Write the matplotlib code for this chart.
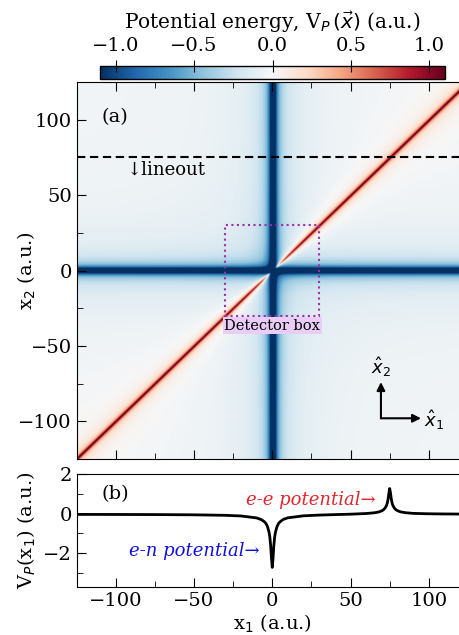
import numpy as np
import matplotlib
matplotlib.use("Agg")
import matplotlib.pyplot as plt
from matplotlib.patches import Rectangle, FancyArrowPatch

plt.rcParams['font.family'] = ['DejaVu Serif']
plt.rcParams['mathtext.fontset'] = 'dejavusans'

# ---- data ----
# electron-nucleus well vs distance from the nucleus (a.u.)
en_dist = [0, 0.5, 1, 1.5, 2, 3, 4, 5, 7, 10, 15, 20, 30, 40, 60, 80, 100, 150, 250]
en_val = [-2.70, -2.24, -1.61, -1.20, -0.94, -0.65, -0.49, -0.40, -0.28, -0.20,
          -0.133, -0.10, -0.067, -0.05, -0.033, -0.025, -0.02, -0.013, -0.008]
# electron-electron ridge vs |x1 - x2| (a.u.)
ee_dist = [0, 0.5, 1, 1.5, 2, 3, 4, 5, 7, 10, 15, 20, 30, 40, 60, 80, 100, 150, 250]
ee_val = [1.32, 1.10, 0.80, 0.60, 0.47, 0.33, 0.25, 0.20, 0.14, 0.10,
          0.067, 0.05, 0.033, 0.025, 0.017, 0.0125, 0.01, 0.0067, 0.004]

# lineout at x2 = 75 (panel b)
line_x1 = [-125, -100, -75, -50, -30, -20, -10, -7, -5, -4, -3, -2, -1.5, -1, -0.5, 0,
           0.5, 1, 1.5, 2, 3, 4, 5, 7, 10, 20, 30, 40, 50, 60, 65, 68, 70, 71, 72, 73,
           73.5, 74, 74.5, 75, 75.5, 76, 76.5, 77, 78, 79, 80, 82, 85, 90, 100, 110, 125]
line_v = [-0.038, -0.041, -0.047, -0.059, -0.084, -0.117, -0.215, -0.30, -0.41, -0.50,
          -0.66, -0.95, -1.21, -1.62, -2.25, -2.71,
          -2.25, -1.62, -1.21, -0.95, -0.66, -0.50, -0.41, -0.29, -0.21, -0.109, -0.072,
          -0.048, -0.027, 0.007, 0.042, 0.084, 0.144, 0.195, 0.275, 0.416,
          0.545, 0.746, 1.046, 1.266, 1.046, 0.746, 0.546, 0.416, 0.277, 0.197, 0.147,
          0.089, 0.048, 0.013, -0.007, -0.016, -0.023]

lineout_x2 = 75
box_half = 30
vlim = 1.1
cbar_ticks = [-1.0, -0.5, 0.0, 0.5, 1.0]

# ---- build the 2D map ----
grid = np.linspace(-125, 125, 1001)
X1, X2 = np.meshgrid(grid, grid)
V = (np.interp(np.abs(X1), en_dist, en_val)
     + np.interp(np.abs(X2), en_dist, en_val)
     + np.interp(np.abs(X1 - X2), ee_dist, ee_val))

W, H = 459, 635
fig = plt.figure(figsize=(W / 100, H / 100), dpi=100)

def ax_rect(l, r, t, b):
    return [l / W, (H - b) / H, (r - l) / W, (b - t) / H]

ax = fig.add_axes(ax_rect(76.5, 468, 82, 459))
cax = fig.add_axes(ax_rect(100, 445, 66, 79))
axb = fig.add_axes(ax_rect(76.5, 468, 474, 587))

im = ax.imshow(V, extent=[-125, 125, -125, 125], origin='lower', cmap='RdBu_r',
               vmin=-vlim, vmax=vlim, aspect='auto', interpolation='bilinear')
ax.set_xlim(-125, 125)
ax.set_ylim(-125, 125)
ax.set_xticks([-100, -50, 0, 50, 100])
ax.set_xticks(np.arange(-125, 126, 25), minor=True)
ax.set_yticks([-100, -50, 0, 50, 100])
ax.set_yticks(np.arange(-125, 126, 25), minor=True)
ax.tick_params(which='both', direction='in', top=True, right=True, labelbottom=False,
               labelsize=14)
ax.tick_params(which='major', length=6.5)
ax.tick_params(which='minor', length=4.3)
ax.set_ylabel('x$_2$ (a.u.)', fontsize=14)
ax.yaxis.set_label_coords(-0.098, 0.5)

ax.axhline(lineout_x2, color='black', ls='--', lw=1.5, dashes=(4.0, 2.2))
ax.text(-93, 67, '↓lineout', fontsize=13, ha='left', va='center')
ax.text(-109, 102, '(a)', fontsize=14, ha='left', va='center')

ax.add_patch(Rectangle((-box_half, -box_half), 2 * box_half, 2 * box_half, fill=False,
                       edgecolor='#9a2fa8', ls=':', lw=1.5))
ax.text(0, -32, 'Detector box', fontsize=10.5, ha='center', va='top',
        bbox=dict(boxstyle='square,pad=0.1', fc='#e9cdf7', ec='none'))

ax.add_patch(FancyArrowPatch((69.4, -98), (95, -98), arrowstyle='-|>', mutation_scale=12,
                             color='black', lw=1.5, shrinkA=0, shrinkB=0))
ax.add_patch(FancyArrowPatch((69.4, -98), (69.4, -74), arrowstyle='-|>', mutation_scale=12,
                             color='black', lw=1.5, shrinkA=0, shrinkB=0))
ax.text(69.4, -72, r'$\hat{x}_2$', fontsize=13, ha='center', va='bottom',
        family='DejaVu Sans')
ax.text(97, -99, r'$\hat{x}_1$', fontsize=13, ha='left', va='center',
        family='DejaVu Sans')

cb = fig.colorbar(im, cax=cax, orientation='horizontal', ticks=cbar_ticks)
cax.xaxis.set_ticks_position('top')
cax.xaxis.set_label_position('top')
cax.tick_params(direction='inout', length=9, labelsize=14)
cb.set_label(r'Potential energy, V$_P\,(\vec{x})$ (a.u.)', fontsize=14.5, labelpad=6)
cb.outline.set_linewidth(1)

axb.plot(line_x1, line_v, color='black', lw=2.0)
axb.set_xlim(-125, 125)
axb.set_ylim(-3.7, 2)
axb.set_xticks([-100, -50, 0, 50, 100])
axb.set_xticks(np.arange(-125, 126, 25), minor=True)
axb.set_yticks([-2, 0, 2])
axb.set_yticks([-3, -1, 1], minor=True)
axb.tick_params(which='both', direction='in', labelsize=14)
axb.tick_params(which='major', length=6.5)
axb.tick_params(which='minor', length=4.3)
axb.set_xlabel('x$_1$ (a.u.)', fontsize=14, labelpad=2)
axb.set_ylabel('V$_P$(x$_1$) (a.u.)', fontsize=14)
axb.yaxis.set_label_coords(-0.098, 0.5)
axb.text(-109, 1.0, '(b)', fontsize=14, ha='left', va='center')
axb.text(66, 0.7, 'e-e potential→', fontsize=13, style='italic', color='#e0262b',
         ha='right', va='center')
axb.text(-8, -1.9, 'e-n potential→', fontsize=13, style='italic', color='#1010dd',
         ha='right', va='center')

fig.savefig('out.png', dpi=100)
